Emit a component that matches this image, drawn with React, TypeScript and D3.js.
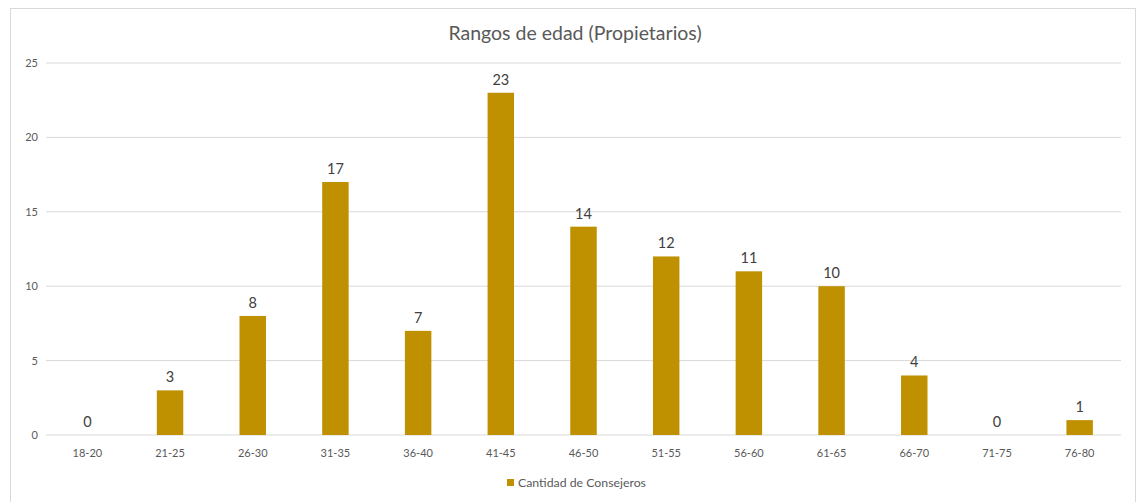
import React from "react";
import * as d3 from "d3";

const categories = ["18-20","21-25","26-30","31-35","36-40","41-45","46-50","51-55","56-60","61-65","66-70","71-75","76-80"];
const values = [0,3,8,17,7,23,14,12,11,10,4,0,1];
const yTicks = [0,5,10,15,20,25];
const title = "Rangos de edad (Propietarios)";
const seriesName = "Cantidad de Consejeros";

const W = 1139, H = 502;
const FONT = "Lato, 'Open Sans', sans-serif";
const BAR = "#bf9000";

export default function App() {
  const x = d3.scaleBand<string>().domain(categories).range([46, 1121]).paddingInner(0.68).paddingOuter(0.34);
  const y = d3.scaleLinear().domain([0, 25]).range([435, 63]);
  return (
    <svg width={W} height={H} style={{ position: "absolute", left: 0, top: 0 }} fontFamily={FONT}>
      <rect x={0} y={0} width={W} height={H} fill="#fff" />
      <rect x={10.5} y={8.5} width={1125} height={510} fill="#fff" stroke="#d9d9d9" />
      <text x={575} y={40} textAnchor="middle" fontSize={19.5} fill="#595959">{title}</text>
      {yTicks.map(t => (
        <g key={t}>
          <line x1={46} x2={1121} y1={y(t)} y2={y(t)} stroke="#d9d9d9" strokeWidth={1} />
          <text x={38} y={y(t) + 4} textAnchor="end" fontSize={11} fill="#595959">{t}</text>
        </g>
      ))}
      {categories.map((c, i) => {
        const cx = (x(c) as number) + x.bandwidth() / 2;
        return (
          <g key={c}>
            <rect x={x(c)} y={y(values[i])} width={x.bandwidth()} height={y(0) - y(values[i])} fill={BAR} />
            <text x={cx} y={y(values[i]) - 8} textAnchor="middle" fontSize={14.5} fill="#404040">{values[i]}</text>
            <text x={cx} y={457} textAnchor="middle" fontSize={11} fill="#595959">{c}</text>
          </g>
        );
      })}
      <rect x={507} y={479} width={7} height={7} fill={BAR} />
      <text x={518} y={487} fontSize={12.3} fill="#595959">{seriesName}</text>
    </svg>
  );
}
